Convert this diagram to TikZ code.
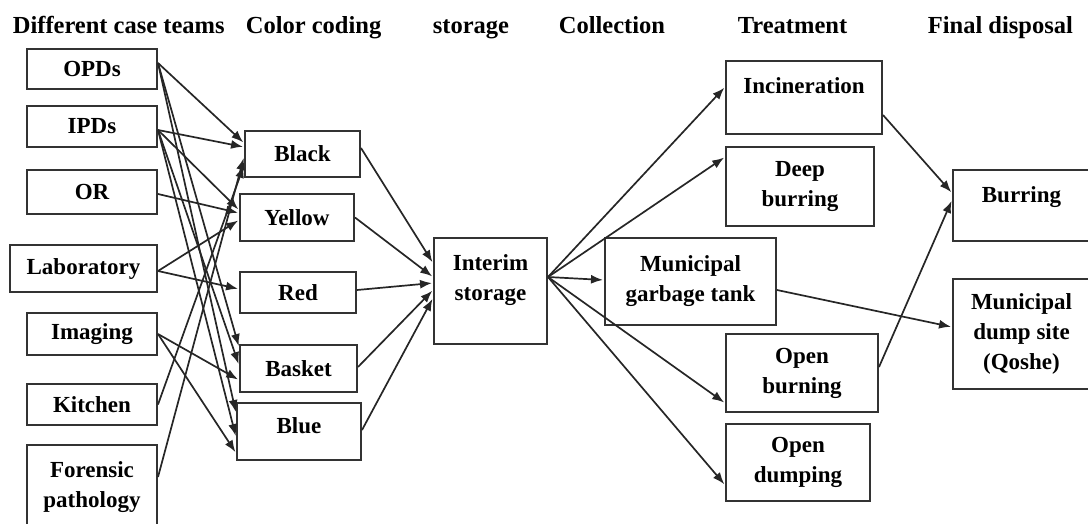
\documentclass[tikz,border=0pt]{standalone}
\usepackage{fontspec}
\setmainfont{Liberation Serif}
\usetikzlibrary{positioning}
\usetikzlibrary{arrows.meta}

\begin{document}
\begin{tikzpicture}[x=1pt,y=-1pt,>={Latex[length=12pt,width=9pt]},shorten >=1pt,
                line width=1.7pt,draw=black!85,
                box/.style={rectangle,draw=black!80,line width=2pt,inner sep=6pt,align=center,
                            font=\bfseries\fontsize{23}{30}\selectfont},
                head/.style={anchor=base west,inner sep=0pt,font=\bfseries\fontsize{24.5}{30}\selectfont}]

  \useasboundingbox (0,0) rectangle (1088,523);

  % column titles
  \node[head] (h1) at (12,33)  {Different case teams};
  \node[head] (h2) at (245,33) {Color coding};
  \node[head] (h3) at (432,33) {storage};
  \node[head] (h4) at (558,33) {Collection};
  \node[head] (h5) at (737,33) {Treatment};
  \node[head] (h6) at (927,33) {Final disposal};

  % case teams
  \node[box,minimum width=130pt,minimum height=40pt] (opd) at (92,69) {OPDs};
  \node[box,minimum width=130pt,minimum height=41pt] (ipd) at (92,126.5) {IPDs};
  \node[box,minimum width=130pt,minimum height=44pt] (ort) at (92,192) {OR};
  \node[box,minimum width=147pt,minimum height=47pt] (lab) at (83.5,268.5) {Laboratory};
  \node[box,minimum width=130pt,minimum height=42pt] (img) at (92,334) {Imaging};
  \node[box,minimum width=130pt,minimum height=41pt] (kit) at (92,404.5) {Kitchen};
  \node[box,minimum width=130pt,minimum height=85pt] (forensic) at (92,487.5) {Forensic\\pathology};

  % color coding
  \node[box,minimum width=115pt,minimum height=46pt] (blackbin) at (302.5,154) {Black};
  \node[box,minimum width=114pt,minimum height=47pt] (yellowbin) at (297,217.5) {Yellow};
  \node[box,minimum width=116pt,minimum height=41pt] (redbin) at (298,292.5) {Red};
  \node[box,minimum width=117pt,minimum height=47pt] (basketbin) at (298.5,368.5) {Basket};
  \node[box,minimum width=124pt,minimum height=57pt,text height=24pt,text depth=21pt] (bluebin) at (299,431.5) {Blue};

  % storage, collection
  \node[box,minimum width=113pt,minimum height=106pt,inner ysep=8pt,text height=54pt,text depth=36pt] (interim) at (490.5,291) {Interim\\storage};
  \node[box,minimum width=171pt,minimum height=87pt] (tank) at (690.5,281.5) {Municipal\\garbage tank};

  % treatment
  \node[box,minimum width=156pt,minimum height=73pt,inner ysep=8pt,text height=24pt,text depth=33pt] (incin) at (804,97.5) {Incineration};
  \node[box,minimum width=148pt,minimum height=79pt] (deep) at (800,186.5) {Deep\\burring};
  \node[box,minimum width=152pt,minimum height=78pt] (openburn) at (802,373) {Open\\burning};
  \node[box,minimum width=144pt,minimum height=77pt] (opendump) at (798,462.5) {Open\\dumping};

  % final disposal
  \node[box,minimum width=137pt,minimum height=71pt,inner ysep=8pt,text height=24pt,text depth=31pt] (burring) at (1021.5,205.5) {Burring};
  \node[box,minimum width=137pt,minimum height=110pt] (dumpsite) at (1021.5,334) {Municipal\\dump site\\(Qoshe)};

  \path[->]
    ([yshift=6pt]opd.east) edge ([yshift=11pt]blackbin.west)
                           edge ([yshift=21.5pt]basketbin.west)
                           edge ([yshift=18.5pt]bluebin.west)
    ([yshift=-3.5pt]ipd.east) edge ([yshift=7pt]blackbin.west)
                              edge ([yshift=7.5pt]yellowbin.west)
                              edge ([yshift=3.5pt]basketbin.west)
                              edge ([yshift=-5.5pt]bluebin.west)
    ([yshift=-2pt]ort.east) edge ([yshift=4.5pt]yellowbin.west)
    ([yshift=-2.5pt]lab.east) edge ([yshift=-2.5pt]yellowbin.west)
                              edge ([yshift=3.5pt]redbin.west)
    (img.east) edge ([yshift=-11.5pt]basketbin.west)
               edge ([yshift=-21.5pt]bluebin.west)
    (kit.east) edge ([yshift=-11pt]blackbin.west)
    ([yshift=10.5pt]forensic.east) edge ([yshift=-3pt]blackbin.west);

  \path[->]
    ([yshift=6pt]blackbin.east) edge ([yshift=28pt]interim.west)
    (yellowbin.east) edge ([yshift=14pt]interim.west)
    ([yshift=2.5pt]redbin.east) edge ([yshift=8pt]interim.west)
    ([yshift=1.5pt]basketbin.east) edge ([yshift=1pt]interim.west)
    ([yshift=1.5pt]bluebin.east) edge ([yshift=-7pt]interim.west);

  \path[->]
    ([yshift=14pt]interim.east) edge ([yshift=10.5pt]incin.west)
                                edge ([yshift=29.5pt]deep.west)
                                edge ([yshift=1.5pt]tank.west)
                                edge ([yshift=-30pt]openburn.west)
                                edge ([yshift=-22.5pt]opendump.west)
    ([yshift=-17.5pt]incin.east) edge ([yshift=12.5pt]burring.west)
    ([yshift=6pt]openburn.east) edge ([yshift=5.5pt]burring.west)
    ([yshift=-8.5pt]tank.east) edge ([yshift=7pt]dumpsite.west);
\end{tikzpicture}
\end{document}
